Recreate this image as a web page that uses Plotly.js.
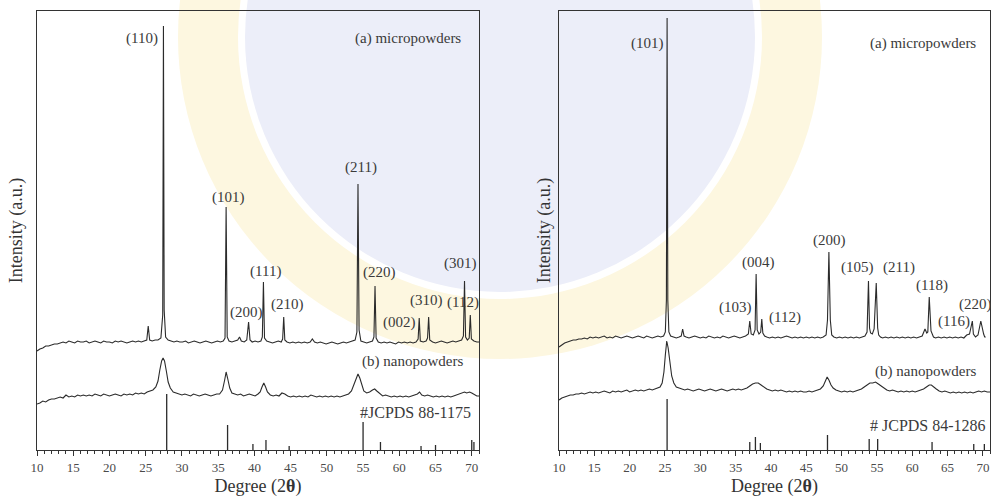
<!DOCTYPE html>
<html><head><meta charset="utf-8">
<script src="https://cdn.plot.ly/plotly-3.0.1.min.js"></script>
<style>html,body{margin:0;padding:0;background:#fff}</style>
</head><body><div id="chart" style="width:991px;height:497px"></div>
<script>
// ---------- Left panel: rutile ----------
const rutMicroX = [10.0,10.4,10.8,11.2,11.6,12.0,12.4,12.8,13.2,13.6,14.0,14.4,14.8,15.2,15.6,16.0,16.4,16.8,17.2,17.6,18.0,18.4,18.8,19.2,19.6,20.0,20.4,20.8,21.2,21.6,22.0,22.4,22.8,23.2,23.6,24.0,24.4,24.8,25.15,25.35,25.55,25.9,26.3,26.7,27.1,27.35,27.45,27.55,27.75,28.1,28.5,28.9,29.3,29.7,30.1,30.5,30.9,31.3,31.7,32.1,32.5,32.9,33.3,33.7,34.1,34.5,34.9,35.3,35.7,35.95,36.1,36.25,36.5,36.9,37.3,37.7,37.95,38.2,38.6,38.95,39.2,39.4,39.7,40.1,40.5,40.9,41.1,41.25,41.4,41.7,42.1,42.5,42.9,43.3,43.7,43.9,44.05,44.2,44.5,44.9,45.3,45.7,46.1,46.5,46.9,47.3,47.7,48.0,48.3,48.7,49.1,49.5,49.9,50.3,50.7,51.1,51.5,51.9,52.3,52.7,53.1,53.5,53.9,54.15,54.3,54.45,54.7,55.1,55.5,55.9,56.3,56.5,56.65,56.8,57.1,57.5,57.9,58.3,58.7,59.1,59.5,59.9,60.3,60.7,61.1,61.5,61.9,62.3,62.6,62.75,62.9,63.3,63.7,63.9,64.05,64.2,64.6,65.0,65.4,65.8,66.2,66.6,67.0,67.4,67.8,68.2,68.6,68.85,69.0,69.15,69.4,69.65,69.8,69.95,70.3,70.7,71.0];
const rutMicroY = [99,101,102,104,104,105,106,106,107,108,107,109,108,107,109,108,108,109,107,108,109,108,107,109,108,108,107,109,108,109,108,107,108,109,108,109,108,109,110,124,110,109,110,110,112,135,424,140,113,110,109,108,109,108,108,109,107,108,109,108,107,108,109,108,107,108,109,108,109,112,243,113,109,108,109,110,113,109,108,110,128,110,108,109,108,109,113,168,112,109,108,107,108,109,108,111,133,110,108,107,108,107,108,107,108,107,108,111,108,107,108,107,106,107,108,107,106,107,108,107,108,109,110,118,266,120,109,108,107,108,109,113,164,112,108,107,108,107,108,107,106,108,107,108,107,108,107,108,111,132,109,108,109,112,133,110,108,107,108,109,108,107,108,109,108,109,110,114,169,113,110,112,135,111,109,108,108];

const rutNanoX = [10.0,10.4,10.8,11.2,11.6,12.0,12.4,12.8,13.2,13.6,14.0,14.4,14.8,15.2,15.6,16.0,16.4,16.8,17.2,17.6,18.0,18.4,18.8,19.2,19.6,20.0,20.4,20.8,21.2,21.6,22.0,22.4,22.8,23.2,23.6,24.0,24.4,24.8,25.2,25.6,26.0,26.4,26.7,26.95,27.2,27.4,27.6,27.85,28.1,28.4,28.8,29.2,29.6,30.0,30.4,30.8,31.2,31.6,32.0,32.4,32.8,33.2,33.6,34.0,34.4,34.8,35.2,35.6,35.9,36.1,36.3,36.6,36.9,37.3,37.7,38.1,38.5,38.9,39.3,39.7,40.1,40.5,40.8,41.05,41.3,41.55,41.8,42.2,42.6,43.0,43.4,43.8,44.2,44.6,45.0,45.4,45.8,46.2,46.6,47.0,47.4,47.8,48.2,48.6,49.0,49.4,49.8,50.2,50.6,51.0,51.4,51.8,52.2,52.6,53.0,53.4,53.8,54.1,54.3,54.55,54.8,55.1,55.5,55.9,56.3,56.6,56.9,57.3,57.7,58.1,58.5,58.9,59.3,59.7,60.1,60.5,60.9,61.3,61.7,62.1,62.5,62.8,63.1,63.5,63.9,64.3,64.7,65.1,65.5,65.9,66.3,66.7,67.1,67.5,67.9,68.3,68.7,69.0,69.3,69.7,70.0,70.4,70.7,71.0];
const rutNanoY = [46,47,49,48,50,51,51,52,53,52,55,53,54,53,55,54,55,54,55,54,56,55,54,56,55,54,55,56,55,54,56,55,56,55,57,56,57,56,58,59,60,63,69,80,89,92,89,79,68,62,58,57,56,55,56,55,54,56,55,54,55,56,55,54,55,56,56,60,70,78,72,62,57,56,55,56,54,55,56,55,54,56,58,63,67,63,58,55,54,55,54,57,56,54,53,54,53,54,53,54,53,55,54,53,54,53,54,53,54,53,54,53,54,55,56,59,67,74,76,72,65,59,57,58,60,61,59,56,54,55,54,53,54,53,54,53,54,53,54,55,56,58,55,54,55,54,53,54,53,54,53,54,53,54,55,56,57,58,57,58,57,55,54,54];

const rutRefX = [27.9,36.3,39.8,41.6,44.8,55.0,57.4,63.0,65.0,70.0,70.3];
const rutRefY = [56,25,6,10,4,28,8,4,5,10,8];

const rutHKL = ["(110)","(101)","(200)","(111)","(210)","(211)","(220)","(002)","(310)","(301)","(112)"];

// ---------- Right panel: anatase ----------
const anaMicroX = [10.0,10.4,10.8,11.2,11.6,12.0,12.4,12.8,13.2,13.6,14.0,14.4,14.8,15.2,15.6,16.0,16.4,16.8,17.2,17.6,18.0,18.4,18.8,19.2,19.6,20.0,20.4,20.8,21.2,21.6,22.0,22.4,22.8,23.2,23.6,24.0,24.4,24.8,25.05,25.2,25.3,25.4,25.55,25.8,26.2,26.6,27.0,27.3,27.5,27.7,28.0,28.4,28.8,29.2,29.6,30.0,30.4,30.8,31.2,31.6,32.0,32.4,32.8,33.2,33.6,34.0,34.4,34.8,35.2,35.6,36.0,36.4,36.8,37.0,37.2,37.5,37.75,37.9,38.05,38.3,38.55,38.7,38.85,39.1,39.4,39.8,40.2,40.6,41.0,41.4,41.8,42.2,42.6,43.0,43.4,43.8,44.2,44.6,45.0,45.4,45.8,46.2,46.6,47.0,47.4,47.8,48.0,48.2,48.4,48.6,48.9,49.3,49.7,50.1,50.5,50.9,51.3,51.7,52.1,52.5,52.9,53.3,53.6,53.8,53.95,54.1,54.35,54.6,54.9,55.1,55.25,55.5,55.8,56.2,56.6,57.0,57.4,57.8,58.2,58.6,59.0,59.4,59.8,60.2,60.6,61.0,61.4,61.8,62.05,62.2,62.4,62.65,62.85,63.0,63.3,63.7,64.1,64.5,64.9,65.3,65.7,66.1,66.5,66.9,67.3,67.7,68.1,68.5,68.65,68.8,68.95,69.3,69.7,70.1,70.25,70.4,70.55,70.8,71.1];
const anaMicroY = [103,105,107,108,109,110,110,111,111,112,111,113,112,113,112,113,114,112,113,112,114,113,112,113,114,113,112,113,114,113,112,114,113,112,113,114,113,114,118,150,432,150,118,114,113,112,113,114,121,114,113,112,113,114,113,112,113,112,114,113,112,113,112,114,113,112,113,114,113,112,113,114,116,129,116,115,120,176,120,116,118,131,117,114,113,112,113,112,113,112,113,114,113,112,113,112,113,112,113,112,113,112,113,112,113,115,130,198,130,115,113,112,113,112,113,112,113,112,113,112,113,114,118,169,122,117,116,121,167,122,115,113,112,113,112,113,112,113,112,113,112,113,112,113,112,113,114,121,117,118,153,119,115,113,112,113,112,113,112,113,112,113,112,113,112,115,116,129,116,114,113,115,129,116,113,113];

const anaNanoX = [10.0,10.4,10.8,11.2,11.6,12.0,12.4,12.8,13.2,13.6,14.0,14.4,14.8,15.2,15.6,16.0,16.4,16.8,17.2,17.6,18.0,18.4,18.8,19.2,19.6,20.0,20.4,20.8,21.2,21.6,22.0,22.4,22.8,23.2,23.6,24.0,24.3,24.6,24.85,25.05,25.25,25.45,25.7,25.95,26.25,26.6,27.0,27.4,27.8,28.2,28.6,29.0,29.4,29.8,30.2,30.6,31.0,31.4,31.8,32.2,32.6,33.0,33.4,33.8,34.2,34.6,35.0,35.4,35.8,36.2,36.6,37.0,37.4,37.8,38.2,38.6,39.0,39.4,39.8,40.2,40.6,41.0,41.4,41.8,42.2,42.6,43.0,43.4,43.8,44.2,44.6,45.0,45.4,45.8,46.2,46.6,47.0,47.4,47.7,47.95,48.2,48.5,48.8,49.2,49.6,50.0,50.4,50.8,51.2,51.6,52.0,52.4,52.8,53.2,53.6,54.0,54.4,54.8,55.2,55.6,56.0,56.4,56.8,57.2,57.6,58.0,58.4,58.8,59.2,59.6,60.0,60.4,60.8,61.2,61.6,62.0,62.4,62.7,63.0,63.4,63.8,64.2,64.6,65.0,65.4,65.8,66.2,66.6,67.0,67.4,67.8,68.2,68.6,69.0,69.4,69.8,70.2,70.6,71.1];
const anaNanoY = [50,52,53,54,55,55,56,56,57,56,57,58,57,58,57,58,59,58,57,59,58,59,58,59,60,58,59,60,59,60,59,60,61,60,61,62,63,67,78,95,109,102,86,74,67,63,62,61,60,61,60,59,60,61,60,59,60,61,60,59,60,61,60,59,60,61,60,61,60,61,62,64,66,67,67,65,63,61,60,59,60,59,60,59,58,59,58,59,58,59,58,58,59,58,59,60,61,64,69,73,70,65,62,60,59,58,59,58,59,58,59,60,61,63,65,67,67,68,66,64,62,60,59,60,59,58,59,58,59,58,59,58,59,60,61,63,65,65,63,61,59,58,59,58,57,58,57,58,57,58,57,58,57,58,59,58,59,58,58];

const anaRefX = [25.3,37.0,37.8,38.5,48.0,53.9,55.1,62.8,68.7,70.2];
const anaRefY = [51,8,13,7,15,11,11,8,6,6];

const anaHKL = ["(101)","(103)","(004)","(112)","(200)","(105)","(211)","(118)","(116)","(220)"];

const sampleLabels = ["(a) micropowders","(b) nanopowders"];
const refLabels = ["#JCPDS 88-1175","# JCPDS 84-1286"];

// ---------- build ----------
const W = 991, H = 497;
const px = v => v / W;
const py = v => 1 - v / H;
const FONT = "Liberation Serif, Times New Roman, serif";
const INK = "#2b2b2b";

function sticks(xs, ys) {
  const X = [], Y = [];
  xs.forEach((x, i) => { X.push(x, x, null); Y.push(0, ys[i], null); });
  return {X, Y};
}
const rs = sticks(rutRefX, rutRefY);
const as = sticks(anaRefX, anaRefY);
const lineStyle = {color: INK, width: 1.1};

const traces = [
  {x: rutMicroX, y: rutMicroY, mode: "lines", line: lineStyle, xaxis: "x", yaxis: "y", hoverinfo: "skip"},
  {x: rutNanoX, y: rutNanoY, mode: "lines", line: lineStyle, xaxis: "x", yaxis: "y", hoverinfo: "skip"},
  {x: rs.X, y: rs.Y, mode: "lines", line: {color: INK, width: 1.3}, xaxis: "x", yaxis: "y", hoverinfo: "skip"},
  {x: anaMicroX, y: anaMicroY, mode: "lines", line: lineStyle, xaxis: "x2", yaxis: "y2", hoverinfo: "skip"},
  {x: anaNanoX, y: anaNanoY, mode: "lines", line: lineStyle, xaxis: "x2", yaxis: "y2", hoverinfo: "skip"},
  {x: as.X, y: as.Y, mode: "lines", line: {color: INK, width: 1.3}, xaxis: "x2", yaxis: "y2", hoverinfo: "skip"}
];

function xax(domain, range, anchor) {
  return {
    domain, range, anchor, showline: true, mirror: true, linecolor: "#333", linewidth: 1.2,
    ticks: "outside", ticklen: 5, tickwidth: 1, tickcolor: "#333", tick0: 10, dtick: 5,
    minor: {ticks: "outside", ticklen: 3, tickwidth: 1, tickcolor: "#333", dtick: 1},
    showgrid: false, zeroline: false,
    tickfont: {family: FONT, size: 13, color: "#4a4a4a"},
    title: {text: "Degree (2<b>θ</b>)", font: {family: FONT, size: 18, color: "#333"}, standoff: 6}
  };
}
function yax(domain, anchor, standoff) {
  return {
    domain, range: [0, 439], anchor, showline: true, mirror: true, linecolor: "#333", linewidth: 1.2,
    ticks: "", showticklabels: false, showgrid: false, zeroline: false,
    title: {text: "Intensity (a.u.)", font: {family: FONT, size: 18, color: "#333"}, standoff}
  };
}

const ann = [];
function lab(text, x, y, size) {
  ann.push({text, x: px(x), y: py(y), xref: "paper", yref: "paper", showarrow: false,
    xanchor: "center", yanchor: "middle", font: {family: FONT, size: size || 15, color: "#3a3a3a"}});
}
// left hkl labels
const rutPos = [[142,38],[228,197],[246,312],[265,271],[287,304],[361,167],[379,272],[399,322],[426,300],[460,263],[463,302]];
rutHKL.forEach((t, i) => lab(t, rutPos[i][0], rutPos[i][1]));
lab(sampleLabels[0], 408, 38);
lab(sampleLabels[1], 412, 361);
lab(refLabels[0], 415, 412, 16);
// right hkl labels
const anaPos = [[647,43],[735,307],[758,262],[785,317],[829,240],[857,267],[899,267],[932,285],[954,321],[975,304]];
anaHKL.forEach((t, i) => lab(t, anaPos[i][0], anaPos[i][1]));
lab(sampleLabels[0], 923, 43);
lab(sampleLabels[1], 925, 371);
lab(refLabels[1], 928, 425, 16);

// faint background seal (watermark)
function circ(cx, cy, r, fill) {
  return {type: "circle", xref: "paper", yref: "paper", layer: "below",
    x0: px(cx - r), x1: px(cx + r), y0: py(cy + r), y1: py(cy - r),
    fillcolor: fill, line: {width: 0}};
}
const shapes = [
  circ(500, 37, 322, "#fdf7e0"),
  circ(500, 37, 262, "#ffffff"),
  circ(500, 37, 255, "#eceef9")
];

const layout = {
  width: W, height: H, margin: {l: 0, r: 0, t: 0, b: 0},
  paper_bgcolor: "#ffffff", plot_bgcolor: "rgba(0,0,0,0)",
  showlegend: false,
  xaxis: xax([px(37), px(479)], [10, 71], "y"),
  yaxis: yax([py(450), py(11)], "x", 8),
  xaxis2: xax([px(559), px(990)], [10, 71], "y2"),
  yaxis2: yax([py(450), py(11)], "x2", 2),
  annotations: ann,
  shapes
};

Plotly.newPlot("chart", traces, layout, {staticPlot: true, displayModeBar: false});
</script></body></html>
